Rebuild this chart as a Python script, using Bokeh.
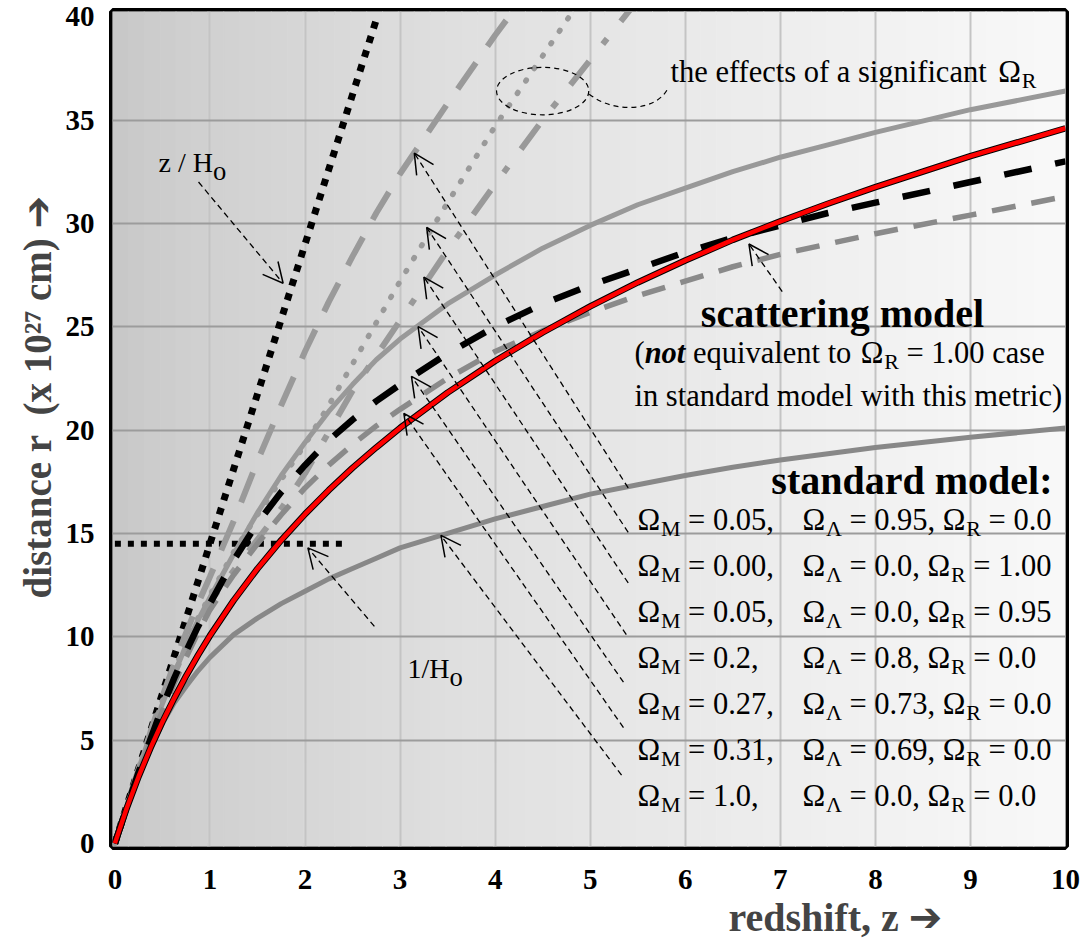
import numpy as np
from bokeh.plotting import figure
from bokeh.models import ColumnDataSource, Arrow, OpenHead, Title, FixedTicker, Range1d
from bokeh.core.properties import value
from bokeh.embed import file_html
from bokeh.resources import INLINE

# ---------------- data ----------------
z_grid = [0, 0.125, 0.25, 0.375, 0.5, 0.625, 0.75, 0.875, 1, 1.25, 1.5, 1.75, 2, 2.25, 2.5, 2.75,
          3, 3.5, 4, 4.5, 5, 5.5, 6, 6.5, 7, 7.5, 8, 9, 10]

# scattering model (red)
r_scatter = [0, 1.71, 3.24, 4.62, 5.88, 7.03, 8.11, 9.11, 10.05, 11.76, 13.29, 14.67, 15.93, 17.09, 18.17, 19.16,
             20.1, 21.81, 23.34, 24.72, 25.98, 27.14, 28.2, 29.2, 30.1, 30.95, 31.75, 33.25, 34.6]
# standard model: Omega_M = 0.27 (black dashed)
r_m027 = [0, 1.75, 3.45, 5.05, 6.6, 8.0, 9.3, 10.5, 11.6, 13.7, 15.5, 17.0, 18.3, 19.5, 20.5, 21.4,
          22.2, 23.7, 25.0, 26.1, 27.0, 27.8, 28.6, 29.3, 29.9, 30.5, 31.0, 32.0, 33.0]
# Omega_M = 0.31 (grey dashed)
r_m031 = [0, 1.75, 3.4, 4.95, 6.4, 7.75, 9.0, 10.2, 11.3, 13.0, 14.5, 15.9, 17.2, 18.3, 19.3, 20.2,
          21.0, 22.5, 23.8, 24.8, 25.7, 26.5, 27.2, 27.9, 28.5, 29.0, 29.5, 30.4, 31.3]
# Omega_M = 0.2 (grey solid, upper)
r_m020 = [0, 1.8, 3.5, 5.15, 6.75, 8.2, 9.6, 10.8, 11.9, 14.0, 16.0, 17.8, 19.4, 20.9, 22.2, 23.4,
          24.4, 26.1, 27.5, 28.8, 29.9, 30.9, 31.7, 32.5, 33.2, 33.8, 34.4, 35.5, 36.4]
# Omega_M = 1.0 (grey solid, lower)
r_m100 = [0, 1.75, 3.3, 4.6, 5.8, 6.8, 7.6, 8.35, 9.0, 10.1, 10.9, 11.6, 12.2, 12.8, 13.3, 13.8,
          14.3, 15.0, 15.7, 16.3, 16.9, 17.35, 17.8, 18.2, 18.55, 18.85, 19.15, 19.65, 20.1]

# Omega_M = 0.05, Omega_L = 0.95 (grey long dash)
z_m005 = [0, 0.125, 0.25, 0.375, 0.5, 0.625, 0.75, 0.875, 1, 1.25, 1.5, 1.75, 2, 2.25, 2.5, 2.75, 3, 3.5, 4, 4.5]
r_m005 = [0, 1.8, 3.6, 5.4, 7.1, 8.7, 10.2, 11.6, 12.9, 15.6, 18.5, 21.2, 23.8, 26.2, 28.4, 30.5, 32.4, 35.8, 39.1, 42.2]

# Omega_M = 0.00, Omega_R = 1.00 (grey dotted)
z_r100 = [0, 0.125, 0.25, 0.375, 0.5, 0.625, 0.75, 0.875, 1, 1.25, 1.5, 1.75, 2, 2.25, 2.5, 2.75, 3, 3.5, 4, 4.5, 5]
r_r100 = [0, 1.8, 3.6, 5.3, 6.9, 8.4, 9.7, 10.9, 12.0, 14.1, 15.9, 17.6, 19.3, 21.2, 23.2, 25.2, 27.2, 31.0, 34.7, 38.1, 41.5]

# Omega_M = 0.05, Omega_R = 0.95 (grey dash-dot)
z_r095 = [0, 0.125, 0.25, 0.375, 0.5, 0.625, 0.75, 0.875, 1, 1.25, 1.5, 1.75, 2, 2.25, 2.5, 2.75, 3, 3.5, 4, 4.5, 5, 5.5]
r_r095 = [0, 1.8, 3.55, 5.2, 6.8, 8.2, 9.5, 10.7, 11.7, 13.2, 14.7, 16.2, 17.9, 19.9, 21.9, 23.6, 25.3, 28.7, 31.9, 35.0, 37.9, 40.8]

# z / Ho line and 1/Ho level
z_hubble = [0, 2.76]
r_hubble = [0, 40.0]
z_inv_h = [0, 2.45]
r_inv_h = [14.5, 14.5]

# legend rows
rows_M = ["0.05", "0.00", "0.05", "0.2", "0.27", "0.31", "1.0"]
rows_L = ["0.95", "0.0", "0.0", "0.8", "0.73", "0.69", "0.0"]
rows_R = ["0.0", "1.00", "0.95", "0.0", "0.0", "0.0", "0.0"]

# pointer arrows (tail -> head), data coordinates
arr_x0 = [0.88, 2.73, 7.02, 5.40, 5.40, 5.40, 5.38, 5.35, 5.35, 5.33]
arr_y0 = [32.0, 10.5, 26.7, 17.2, 15.05, 12.6, 10.1, 7.8, 5.6, 3.3]
arr_x1 = [1.77, 2.03, 6.67, 3.15, 3.28, 3.25, 3.19, 3.12, 3.04, 3.43]
arr_y1 = [27.1, 14.3, 29.0, 33.4, 29.8, 27.4, 25.0, 22.6, 20.8, 14.9]

x_ticks = list(range(0, 11))
y_ticks = list(range(0, 41, 5))

# ---------------- layout ----------------
FL, FR, FT, FB = 112, 1065, 11, 846
XR = (-0.025, 10.0)
YR = (-0.15, 40.25)
SX = (FR - FL) / (XR[1] - XR[0])
SY = (FB - FT) / (YR[1] - YR[0])


def X(px):
    return XR[0] + (px - FL) / SX


def Y(py):
    return YR[1] - (py - FT) / SY


SERIF = "Liberation Serif"
ARROW_FONT = "Liberation Serif, DejaVu Sans"

p = figure(frame_width=FR - FL, frame_height=FB - FT,
           x_range=Range1d(*XR), y_range=Range1d(*YR),
           output_backend="svg", toolbar_location=None,
           min_border_left=FL, min_border_right=1081 - FR,
           min_border_top=FT, min_border_bottom=944 - FB)
p.background_fill_color = "white"
p.border_fill_color = "white"
p.outline_line_color = "black"
p.outline_line_width = 7

# background gradient bands
edges = np.linspace(XR[0], XR[1], 61)
mids = 0.5 * (edges[:-1] + edges[1:])
vals = (199 + 50 * ((mids - XR[0]) / (XR[1] - XR[0])) ** 0.7).astype(int)
cols = ["#%02x%02x%02x" % (v, v, v) for v in vals]
p.quad(left=edges[:-1], right=edges[1:], bottom=YR[0], top=YR[1],
       fill_color=cols, line_color=cols, line_width=1, level="image")

# axes
p.xaxis.ticker = FixedTicker(ticks=x_ticks)
p.yaxis.ticker = FixedTicker(ticks=y_ticks)
for ax in (p.xaxis, p.yaxis):
    ax.axis_line_color = None
    ax.major_tick_line_color = None
    ax.minor_tick_line_color = None
    ax.major_label_text_font = SERIF
    ax.major_label_text_font_style = "bold"
    ax.major_label_text_font_size = "29px"
    ax.major_label_text_color = "black"
p.xaxis.major_label_standoff = 17
p.yaxis.major_label_standoff = 12

p.xgrid.ticker = FixedTicker(ticks=x_ticks[1:-1])
p.xgrid.grid_line_color = "#c4c4c4"
p.xgrid.grid_line_width = 2
p.ygrid.ticker = FixedTicker(ticks=y_ticks[1:-1])
p.ygrid.grid_line_color = "#9c9c9c"
p.ygrid.grid_line_width = 2

p.add_layout(Title(text="redshift, z \u2794", align="left", offset=728 - FL,
                   text_font=ARROW_FONT, text_font_size="40px", text_font_style="bold",
                   standoff=2), "below")
p.add_layout(Title(text="distance r\u00a0\u00a0(x 10\u00b2\u2077 cm) \u2794", align="left", offset=FB - 598,
                   text_font=ARROW_FONT, text_font_size="39px", text_font_style="bold",
                   standoff=8), "left")

# ---------------- curves ----------------
p.line(z_inv_h, r_inv_h, line_color="black", line_width=6, line_dash="6 7")
p.line(z_hubble, r_hubble, line_color="black", line_width=7, line_dash="7 8")

p.line(z_grid, r_m100, line_color="#888888", line_width=5)
p.line(z_grid, r_m020, line_color="#999999", line_width=5)
p.line(z_m005, r_m005, line_color="#9a9a9a", line_width=6, line_dash="32 20")
p.line(z_r100, r_r100, line_color="#9a9a9a", line_width=5.5, line_dash="1 14", line_cap="round")
p.line(z_r095, r_r095, line_color="#999999", line_width=6, line_dash="30 22 7 22")
p.line(z_grid, r_m031, line_color="#8a8a8a", line_width=5.5, line_dash="24 16")
p.line(z_grid, r_m027, line_color="black", line_width=6.5, line_dash="28 24")
p.line(z_grid, r_scatter, line_color="black", line_width=6.5)
p.line(z_grid, r_scatter, line_color="#ff0000", line_width=4.5)

# ---------------- annotations ----------------
asrc = ColumnDataSource(dict(x0=arr_x0, y0=arr_y0, x1=arr_x1, y1=arr_y1))
p.add_layout(Arrow(end=OpenHead(size=20, line_width=1.5, line_color="black"),
                   x_start="x0", y_start="y0", x_end="x1", y_end="y1", source=asrc,
                   line_width=1.3, line_dash="6 4", line_color="black"))

p.ellipse(x=[4.50], y=[36.4], width=[0.97], height=[2.3], fill_color=None,
          line_color="black", line_width=1.2, line_dash="5 4")
p.bezier(x0=[4.99], y0=[36.25], x1=[5.82], y1=[36.55], cx0=[5.25], cy0=[35.3],
         cx1=[5.7], cy1=[35.4], line_color="black", line_width=1.2, line_dash="5 4")

# ---------------- texts ----------------
W = {' ': .25, ',': .25, '.': .25, '=': .564, '(': .333, ')': .333, '/': .278, ':': .278,
     'Ω': .768, 'M': .889, 'Λ': .722, 'R': .667, 'H': .722,
     'a': .444, 'c': .444, 'd': .5, 'e': .444, 'f': .333, 'g': .5, 'h': .5, 'i': .278,
     'l': .278, 'm': .778, 'n': .556, 'o': .5, 'q': .5, 'r': .333, 's': .389, 't': .278,
     'u': .5, 'v': .5, 'w': .722, 'x': .5, 'z': .444}


def tw(s, size):
    return sum(W.get(ch, 0.5) for ch in s) * size


T = dict(x=[], y=[], text=[], size=[], style=[], align=[])


def put(txt, px, py, size, style="normal", align="left"):
    T["x"].append(X(px))
    T["y"].append(Y(py))
    T["text"].append(txt)
    T["size"].append("%.1fpx" % size)
    T["style"].append(style)
    T["align"].append(align)


def flow(segs, px, py, size, sub_scale=0.72, drop=9):
    for txt, kind in segs:
        s = size * sub_scale if kind == "s" else size
        lead = len(txt) - len(txt.lstrip(" "))
        px += tw(" " * lead, s)
        body = txt.strip(" ")
        if body:
            put(body, px, py + (drop if kind == "s" else 0), s,
                "bold italic" if kind == "bi" else "normal")
        px += tw(txt[lead:], s)
    return px


flow([("the effects of a significant ", "n"), ("Ω", "n"), ("R", "s")], 670, 71, 30.5)
flow([("z / H", "n"), ("o", "s")], 158, 162, 28, sub_scale=0.95, drop=8)
flow([("1/H", "n"), ("o", "s")], 407, 668, 28, sub_scale=0.95, drop=8)

put("scattering model", 842, 313, 40, "bold", "center")
flow([("(", "n"), ("not", "bi"), (" equivalent to ", "n"), ("Ω", "n"), ("R", "s"),
      (" = 1.00 case", "n")], 634, 352, 30.5)
flow([("in standard model with this metric)", "n")], 634, 395, 30.5)
put("standard model:", 1052, 480, 40, "bold", "right")

for i in range(len(rows_M)):
    base = 519 + 46 * i
    flow([("Ω", "n"), ("M", "s"), (" = %s," % rows_M[i], "n")], 637, base, 30.5)
    flow([("Ω", "n"), ("Λ", "s"), (" = %s, " % rows_L[i], "n"), ("Ω", "n"), ("R", "s"),
          (" = %s" % rows_R[i], "n")], 802, base, 30.5)

tsrc = ColumnDataSource(T)
p.text(x="x", y="y", text="text", source=tsrc, text_font=value(SERIF),
       text_font_size="size", text_font_style="style", text_align="align",
       text_baseline="alphabetic", text_color="black")

open("out.html", "w").write(file_html(p, INLINE))
